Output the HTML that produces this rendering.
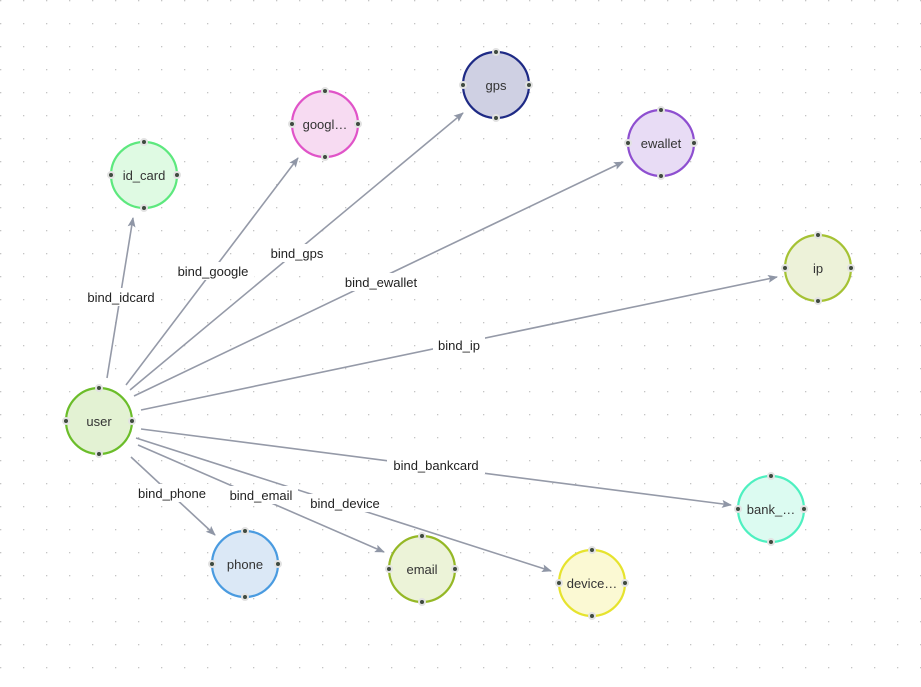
<!DOCTYPE html>
<html><head><meta charset="utf-8"><style>
html,body{margin:0;padding:0;background:#fff;}
svg{display:block;font-family:"Liberation Sans",sans-serif;}
</style></head><body>
<svg width="921" height="687" viewBox="0 0 921 687" xmlns="http://www.w3.org/2000/svg">
<defs>
<pattern id="g" width="23" height="23" patternUnits="userSpaceOnUse">
<rect x="0" y="0" width="1.3" height="1.3" fill="#c4c4c4"/>
</pattern>
<marker id="a" markerWidth="10" markerHeight="8" refX="9" refY="4" orient="auto" markerUnits="userSpaceOnUse">
<path d="M0,0 L10,4 L0,8 L2,4 Z" fill="#8f96a6"/>
</marker>
</defs>
<rect width="921" height="687" fill="url(#g)"/>
<g stroke="#959aa8" stroke-width="1.6" fill="none" marker-end="url(#a)">
<line x1="107" y1="378" x2="133" y2="218"/>
<line x1="126" y1="385" x2="298" y2="158"/>
<line x1="130" y1="390" x2="463" y2="113"/>
<line x1="134" y1="396" x2="623" y2="162"/>
<line x1="141" y1="410" x2="777" y2="277"/>
<line x1="141" y1="429" x2="731" y2="505"/>
<line x1="138" y1="445" x2="384" y2="552"/>
<line x1="136" y1="438" x2="551" y2="571"/>
<line x1="131" y1="457" x2="215" y2="535"/>
</g>
<g font-size="13" fill="#222" text-anchor="middle">
<rect x="82" y="288" width="78" height="18" fill="#fff"/><text x="121" y="302">bind_idcard</text>
<rect x="172" y="262" width="82" height="18" fill="#fff"/><text x="213" y="276">bind_google</text>
<rect x="266" y="244" width="62" height="18" fill="#fff"/><text x="297" y="258">bind_gps</text>
<rect x="339" y="273" width="84" height="18" fill="#fff"/><text x="381" y="287">bind_ewallet</text>
<rect x="433" y="336" width="52" height="18" fill="#fff"/><text x="459" y="350">bind_ip</text>
<rect x="387" y="456" width="98" height="18" fill="#fff"/><text x="436" y="470">bind_bankcard</text>
<rect x="134" y="484" width="76" height="18" fill="#fff"/><text x="172" y="498">bind_phone</text>
<rect x="224" y="486" width="74" height="18" fill="#fff"/><text x="261" y="500">bind_email</text>
<rect x="305" y="494" width="80" height="18" fill="#fff"/><text x="345" y="508">bind_device</text>
</g>
<g font-size="13" text-anchor="middle">
<g transform="translate(99,421)"><circle r="33" fill="#e3f2d3" stroke="#6bbd2a" stroke-width="2.2"/><text y="5" fill="#333">user</text></g>
<g transform="translate(144,175)"><circle r="33" fill="#dffae3" stroke="#5de87e" stroke-width="2.2"/><text y="5" fill="#333">id_card</text></g>
<g transform="translate(325,124)"><circle r="33" fill="#f7dbf2" stroke="#e054c8" stroke-width="2.2"/><text y="5" fill="#333">googl…</text></g>
<g transform="translate(496,85)"><circle r="33" fill="#cfd0e3" stroke="#1e2a85" stroke-width="2.2"/><text y="5" fill="#333">gps</text></g>
<g transform="translate(661,143)"><circle r="33" fill="#e8dcf5" stroke="#8e4fd0" stroke-width="2.2"/><text y="5" fill="#333">ewallet</text></g>
<g transform="translate(818,268)"><circle r="33" fill="#edf2d9" stroke="#a5c234" stroke-width="2.2"/><text y="5" fill="#333">ip</text></g>
<g transform="translate(771,509)"><circle r="33" fill="#dcfbf1" stroke="#4ef0c0" stroke-width="2.2"/><text y="5" fill="#333">bank_…</text></g>
<g transform="translate(592,583)"><circle r="33" fill="#fbf9d3" stroke="#e6e32e" stroke-width="2.2"/><text y="5" fill="#333">device…</text></g>
<g transform="translate(422,569)"><circle r="33" fill="#ecf3d8" stroke="#95b826" stroke-width="2.2"/><text y="5" fill="#333">email</text></g>
<g transform="translate(245,564)"><circle r="33" fill="#dbe8f6" stroke="#4a9be0" stroke-width="2.2"/><text y="5" fill="#333">phone</text></g>
</g>
<g fill="#3f4a3f" stroke="#e2e2e2" stroke-width="2">
<circle cx="99" cy="388" r="3"/><circle cx="99" cy="454" r="3"/><circle cx="66" cy="421" r="3"/><circle cx="132" cy="421" r="3"/>
<circle cx="144" cy="142" r="3"/><circle cx="144" cy="208" r="3"/><circle cx="111" cy="175" r="3"/><circle cx="177" cy="175" r="3"/>
<circle cx="325" cy="91" r="3"/><circle cx="325" cy="157" r="3"/><circle cx="292" cy="124" r="3"/><circle cx="358" cy="124" r="3"/>
<circle cx="496" cy="52" r="3"/><circle cx="496" cy="118" r="3"/><circle cx="463" cy="85" r="3"/><circle cx="529" cy="85" r="3"/>
<circle cx="661" cy="110" r="3"/><circle cx="661" cy="176" r="3"/><circle cx="628" cy="143" r="3"/><circle cx="694" cy="143" r="3"/>
<circle cx="818" cy="235" r="3"/><circle cx="818" cy="301" r="3"/><circle cx="785" cy="268" r="3"/><circle cx="851" cy="268" r="3"/>
<circle cx="771" cy="476" r="3"/><circle cx="771" cy="542" r="3"/><circle cx="738" cy="509" r="3"/><circle cx="804" cy="509" r="3"/>
<circle cx="592" cy="550" r="3"/><circle cx="592" cy="616" r="3"/><circle cx="559" cy="583" r="3"/><circle cx="625" cy="583" r="3"/>
<circle cx="422" cy="536" r="3"/><circle cx="422" cy="602" r="3"/><circle cx="389" cy="569" r="3"/><circle cx="455" cy="569" r="3"/>
<circle cx="245" cy="531" r="3"/><circle cx="245" cy="597" r="3"/><circle cx="212" cy="564" r="3"/><circle cx="278" cy="564" r="3"/>
</g>
</svg>
</body></html>
